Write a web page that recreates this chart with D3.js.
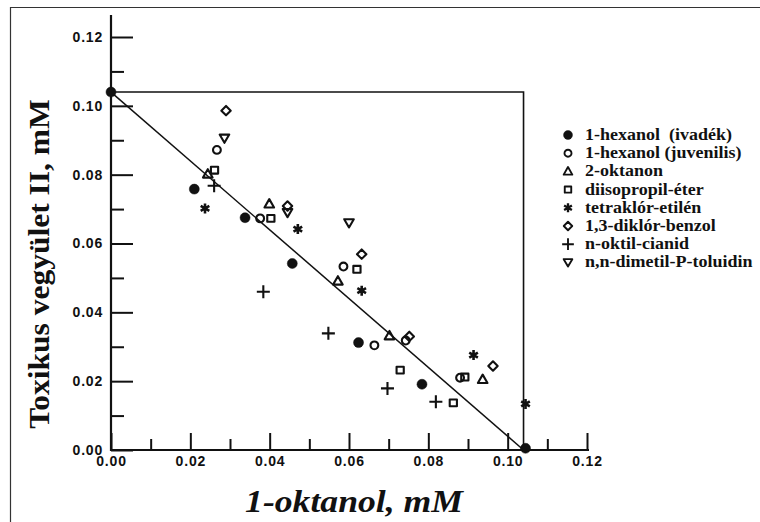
<!DOCTYPE html>
<html><head><meta charset="utf-8">
<script src="https://cdn.jsdelivr.net/npm/d3@7"></script>
<style>
html,body{margin:0;padding:0;background:#fff;}
svg{display:block;}
</style></head>
<body>
<script>
// ---- data ----
const xTicks = [0, 0.02, 0.04, 0.06, 0.08, 0.10, 0.12];
const yTicks = [0, 0.02, 0.04, 0.06, 0.08, 0.10, 0.12];
const minorTicks = [0.01, 0.03, 0.05, 0.07, 0.09, 0.11];
const boundary = 0.104;

const seriesNames = ["1-hexanol  (ivadék)", "1-hexanol (juvenilis)", "2-oktanon", "diisopropil-éter",
  "tetraklór-etilén", "1,3-diklór-benzol", "n-oktil-cianid", "n,n-dimetil-P-toluidin"];

const hexanolIvadek = [[0, 0.104], [0.021, 0.0758], [0.0338, 0.0675], [0.0457, 0.0542], [0.0624, 0.0312], [0.0784, 0.0191], [0.1045, 0.0005]];
const hexanolJuvenilis = [[0.0267, 0.0872], [0.0376, 0.0673], [0.0586, 0.0533], [0.0664, 0.0304], [0.0743, 0.0318], [0.0880, 0.0210]];
const oktanon = [[0.0244, 0.0802], [0.0399, 0.0715], [0.0572, 0.0491], [0.0702, 0.0332], [0.0937, 0.0205]];
const diisopropil = [[0.0261, 0.0813], [0.0403, 0.0673], [0.0620, 0.0525], [0.0729, 0.0232], [0.0863, 0.0137], [0.0892, 0.0212]];
const tetraklor = [[0.0237, 0.0702], [0.0471, 0.0642], [0.0632, 0.0463], [0.0914, 0.0276], [0.1045, 0.0134]];
const diklorbenzol = [[0.0290, 0.0986], [0.0445, 0.0709], [0.0632, 0.0569], [0.0963, 0.0244], [0.0752, 0.0330]];
const oktilcianid = [[0.0260, 0.0768], [0.0384, 0.0460], [0.0548, 0.0339], [0.0697, 0.0179], [0.0819, 0.0140]];
const dimetiltoluidin = [[0.0286, 0.0906], [0.0445, 0.0690], [0.0600, 0.0660]];

const seriesData = [hexanolIvadek, hexanolJuvenilis, oktanon, diisopropil, tetraklor, diklorbenzol, oktilcianid, dimetiltoluidin];

// ---- layout ----
const W = 760, H = 522;
const svg = d3.select("body").append("svg").attr("width", W).attr("height", H);
const x = d3.scaleLinear().domain([0, 0.12]).range([111, 587]);
const y = d3.scaleLinear().domain([0, 0.12]).range([450, 37]);

// frame
svg.append("path").attr("d", `M10.5,${H} L10.5,7.5 L${W},7.5`).attr("fill", "none").attr("stroke", "#333").attr("stroke-width", 1.2);

// custom symbols
const sym = {
  filled: { draw(c, s) { const r = 5; c.moveTo(r, 0); c.arc(0, 0, r, 0, 2 * Math.PI); } },
  circle: { draw(c, s) { const r = 3.9; c.moveTo(r, 0); c.arc(0, 0, r, 0, 2 * Math.PI); } },
  tri: { draw(c, s) { c.moveTo(0, -4.8); c.lineTo(4.8, 3.6); c.lineTo(-4.8, 3.6); c.closePath(); } },
  square: { draw(c, s) { c.moveTo(-3.6, -3.4); c.lineTo(3.6, -3.4); c.lineTo(3.6, 3.4); c.lineTo(-3.6, 3.4); c.closePath(); } },
  star: { draw(c, s) { const r = 5; for (let i = 0; i < 3; i++) { const a = Math.PI / 2 + i * Math.PI / 3; c.moveTo(r * Math.cos(a), r * Math.sin(a)); c.lineTo(-r * Math.cos(a), -r * Math.sin(a)); } } },
  diamond: { draw(c, s) { c.moveTo(0, -4.7); c.lineTo(4.7, 0); c.lineTo(0, 4.7); c.lineTo(-4.7, 0); c.closePath(); } },
  plus: { draw(c, s) { c.moveTo(-6.5, 0); c.lineTo(6.5, 0); c.moveTo(0, -6.5); c.lineTo(0, 6.5); } },
  nabla: { draw(c, s) { c.moveTo(-4.8, -3.6); c.lineTo(4.8, -3.6); c.lineTo(0, 4.6); c.closePath(); } }
};
const seriesSym = ["filled", "circle", "tri", "square", "star", "diamond", "plus", "nabla"];

// axes
const fmt = d3.format(".2f");
const yAxis = d3.axisLeft(y).tickValues(yTicks).tickFormat(fmt).tickSizeInner(-22).tickSizeOuter(0).tickPadding(8);
const yMinor = d3.axisLeft(y).tickValues(minorTicks).tickFormat("").tickSizeInner(-13).tickSizeOuter(0);
const xAxis = d3.axisBottom(x).tickValues(xTicks).tickFormat(fmt).tickSizeInner(-17).tickSizeOuter(0).tickPadding(6);
const xMinor = d3.axisBottom(x).tickValues(minorTicks).tickFormat("").tickSizeInner(-11).tickSizeOuter(0);

function styleAxis(g) {
  g.select(".domain").remove();
  g.selectAll(".tick line").attr("stroke", "#111").attr("stroke-width", 2);
  g.selectAll(".tick text").attr("fill", "#111").style("font-family", "'Liberation Sans', Arial, sans-serif")
    .style("font-size", "14px").style("font-weight", "bold").style("letter-spacing", "0.8px");
}
svg.append("g").attr("transform", `translate(${x(0)},0)`).call(yAxis).call(styleAxis);
svg.append("g").attr("transform", `translate(${x(0)},0)`).call(yMinor).call(styleAxis);
svg.append("g").attr("transform", `translate(0,${y(0)})`).call(xAxis).call(styleAxis);
svg.append("g").attr("transform", `translate(0,${y(0)})`).call(xMinor).call(styleAxis);

// axis lines
svg.append("line").attr("x1", x(0)).attr("x2", x(0)).attr("y1", 15).attr("y2", y(0) + 1).attr("stroke", "#111").attr("stroke-width", 2.2);
svg.append("line").attr("x1", x(0) - 1).attr("x2", x(0.12) + 2).attr("y1", y(0)).attr("y2", y(0)).attr("stroke", "#111").attr("stroke-width", 2.2);

// boundary box and diagonal
svg.append("path")
  .attr("d", `M${x(0)},${y(boundary)} L${x(boundary)},${y(boundary)} L${x(boundary)},${y(0)}`)
  .attr("fill", "none").attr("stroke", "#111").attr("stroke-width", 1.6);
svg.append("line").attr("x1", x(0)).attr("y1", y(boundary)).attr("x2", x(boundary)).attr("y2", y(0))
  .attr("stroke", "#111").attr("stroke-width", 1.5);

// points
function markerAttrs(sel, name) {
  const filled = name === "filled";
  sel.attr("d", d3.symbol().type(sym[name]))
    .attr("fill", filled ? "#111" : "none")
    .attr("stroke", "#111")
    .attr("stroke-width", filled ? 0.5 : (name === "star" ? 2.6 : 2.1))
    .attr("stroke-linejoin", "round");
}
seriesData.forEach((data, i) => {
  svg.append("g").selectAll("path").data(data).join("path")
    .attr("transform", d => `translate(${x(d[0])},${y(d[1])})`)
    .call(markerAttrs, seriesSym[i]);
});

// legend
const lg = svg.append("g");
seriesNames.forEach((n, i) => {
  const yy = 135 + i * 18.2;
  lg.append("path").attr("transform", `translate(568,${yy}) scale(0.9)`).call(markerAttrs, seriesSym[i]);
  lg.append("text").attr("transform", `translate(585,${yy + 5}) scale(1.06,1)`).text(n)
    .attr("xml:space", "preserve").style("white-space", "pre")
    .style("font-family", "'Liberation Serif', 'Times New Roman', serif").style("font-weight", "bold")
    .style("font-size", "17px").attr("fill", "#111");
});

// axis titles
svg.append("text").attr("transform", "translate(49,264) rotate(-90) scale(1.05,1)").attr("text-anchor", "middle")
  .text("Toxikus vegyület II, mM")
  .style("font-family", "'Liberation Serif', 'Times New Roman', serif").style("font-weight", "bold")
  .style("font-size", "30px").attr("fill", "#111");
svg.append("text").attr("transform", "translate(354,512) scale(1.15,1)").attr("text-anchor", "middle")
  .text("1-oktanol, mM")
  .style("font-family", "'Liberation Serif', 'Times New Roman', serif").style("font-weight", "bold").style("font-style", "italic")
  .style("font-size", "31px").attr("fill", "#111");
</script>
</body></html>
